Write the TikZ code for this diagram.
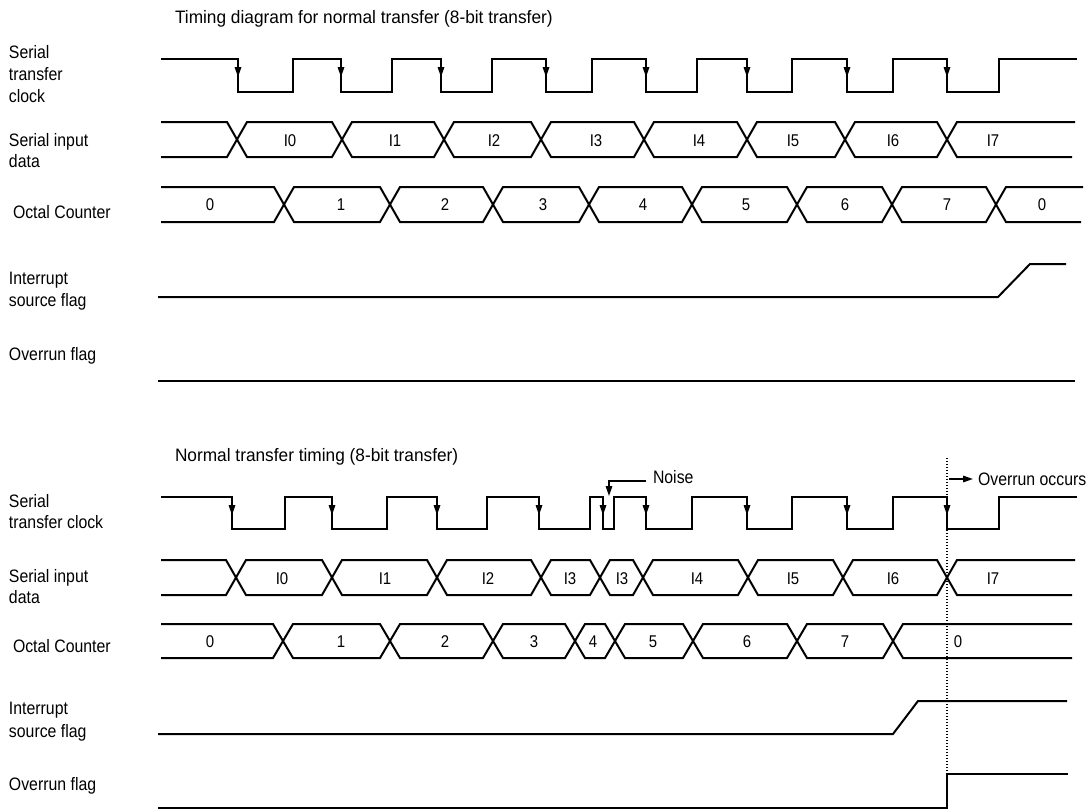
\documentclass[tikz,border=0pt]{standalone}
\usepackage{fontspec}
\setmainfont{Liberation Sans}[FakeStretch=0.88]
\newfontfamily\titlefont{Liberation Sans}[FakeStretch=0.96]
\usetikzlibrary{arrows.meta}
\begin{document}
\begin{tikzpicture}[x=1pt,y=-1pt,line width=2pt,line join=miter,
  lbl/.style={anchor=base west,inner sep=0pt,font=\fontsize{18}{21}\selectfont},
  val/.style={anchor=base,inner sep=0pt,font=\fontsize{17}{20}\selectfont},
  ttl/.style={anchor=base west,inner sep=0pt,font=\titlefont\fontsize{18}{21}\selectfont},
  dots/.style={line width=1.4pt,dash pattern=on 1.4pt off 1.6pt},
  pointer/.style={line width=1.6pt,-{Triangle[length=10pt,width=6.5pt]}}]
\useasboundingbox (0,0) rectangle (1088,809);

% ================= TOP DIAGRAM =================
\node[ttl] (t1) at (174,23) {Timing diagram for normal transfer (8-bit transfer)};
\node[lbl] (a1) at (8,58) {Serial};
\node[lbl] (a2) at (8,80) {transfer};
\node[lbl] (a3) at (8,102) {clock};
\node[lbl] (a4) at (8,146) {Serial input};
\node[lbl] (a5) at (8,167) {data};
\node[lbl] (a6) at (12,218) {Octal Counter};
\node[lbl] (a7) at (8,284) {Interrupt};
\node[lbl] (a8) at (8,306) {source flag};
\node[lbl] (a9) at (8,360) {Overrun flag};

% clock
\draw (161,59) \foreach \f/\r in {238/293,341/392,441/492,546/592,646/697,747/792,847/893,947/999}
  { -- (\f,59) -- (\f,92) -- (\r,92) -- (\r,59) } -- (1077,59);
\foreach \f in {238,341,441,546,646,747,847,947}
  \fill ({\f-3.5},67) -- ({\f+3.5},67) -- (\f,77) -- cycle;

% serial input data
\draw (161,122) -- (227,122) -- (237,139.5) -- (227,157) -- (161,157);
\foreach \a/\b in {237/342,342/444,444/541,541/644,644/747,747/845,845/947}
  \draw (\a,139.5) -- ({\a+10},122) -- ({\b-10},122) -- (\b,139.5) -- ({\b-10},157) -- ({\a+10},157) -- cycle;
\draw (1075,122) -- (957,122) -- (947,139.5) -- (957,157) -- (1072,157);
\foreach \x/\t in {290/I0,395/I1,494/I2,596/I3,699/I4,793/I5,893/I6,993/I7}
  \node[val] at (\x,146) {\t};

% octal counter
\draw (161,187) -- (274,187) -- (284,204.5) -- (274,222) -- (161,222);
\foreach \a/\b in {284/390,390/493,493/589,589/692,692/797,797/892,892/996}
  \draw (\a,204.5) -- ({\a+10},187) -- ({\b-10},187) -- (\b,204.5) -- ({\b-10},222) -- ({\a+10},222) -- cycle;
\draw (1083,187) -- (1006,187) -- (996,204.5) -- (1006,222) -- (1081,222);
\foreach \x/\t in {210/0,341/1,445/2,543/3,643/4,746/5,845/6,947/7,1042/0}
  \node[val] at (\x,210.5) {\t};

% interrupt source flag
\draw (158,297) -- (998,297) -- (1030,264) -- (1066,264);
% overrun flag
\draw (158,381) -- (1075,381);

% ================= BOTTOM DIAGRAM =================
\node[ttl] (t2) at (174,461) {Normal transfer timing (8-bit transfer)};
\node[lbl] (b1) at (8,507) {Serial};
\node[lbl] (b2) at (8,528) {transfer clock};
\node[lbl] (b3) at (8,582) {Serial input};
\node[lbl] (b4) at (8,603) {data};
\node[lbl] (b5) at (12,652) {Octal Counter};
\node[lbl] (b6) at (8,714) {Interrupt};
\node[lbl] (b7) at (8,737) {source flag};
\node[lbl] (b8) at (8,790) {Overrun flag};

% clock with noise
\draw (161,497) \foreach \f/\r in {232/285,332/387,437/487,539/590,603/614,646/692,747/792,847/893,947/999}
  { -- (\f,497) -- (\f,529) -- (\r,529) -- (\r,497) } -- (1077,497);
\foreach \f in {232,332,437,539,603,646,747,847,947}
  \fill ({\f-3.5},505) -- ({\f+3.5},505) -- (\f,515) -- cycle;

% noise marker
\node[lbl] (noise) at (652,483) {Noise};
\coordinate (nz) at (609,496);
\draw[pointer] (noise.west |- 0,481) ++(-6,0) -- (609,481) -- (nz);

% serial input data
\draw (161,560) -- (226,560) -- (236,577.5) -- (226,595) -- (161,595);
\foreach \a/\b in {236/332,332/437,437/541,541/600,600/643,643/748,748/843,843/947}
  \draw (\a,577.5) -- ({\a+10},560) -- ({\b-10},560) -- (\b,577.5) -- ({\b-10},595) -- ({\a+10},595) -- cycle;
\draw (1075,560) -- (957,560) -- (947,577.5) -- (957,595) -- (1072,595);
\foreach \x/\t in {282/I0,385/I1,488/I2,570/I3,622/I3,697/I4,793/I5,893/I6,993/I7}
  \node[val] at (\x,584) {\t};

% octal counter
\draw (161,624) -- (273,624) -- (283,641) -- (273,658) -- (161,658);
\foreach \a/\b in {283/390,390/493,493/575,575/615,615/693,693/797,797/893}
  \draw (\a,641) -- ({\a+10},624) -- ({\b-10},624) -- (\b,641) -- ({\b-10},658) -- ({\a+10},658) -- cycle;
\draw (1072,624) -- (903,624) -- (893,641) -- (903,658) -- (1072,658);
\foreach \x/\t in {210/0,341/1,445/2,534/3,593/4,653/5,747/6,845/7,958/0}
  \node[val] at (\x,647) {\t};

% interrupt source flag
\draw (158,734) -- (893,734) -- (918,701) -- (1067,701);
% overrun flag
\draw (158,808) -- (947,808) -- (947,774) -- (1068,774);

% overrun occurs marker
\coordinate (ovtop) at (947,458);
\coordinate (ovbot) at (947,773);
\draw[dots] (ovtop) -- (ovbot);
\node[lbl] (ovr) at (977,485) {Overrun occurs};
\draw[pointer] (949,479) -- ([xshift=-4pt]ovr.west |- 0,479);
\end{tikzpicture}
\end{document}
